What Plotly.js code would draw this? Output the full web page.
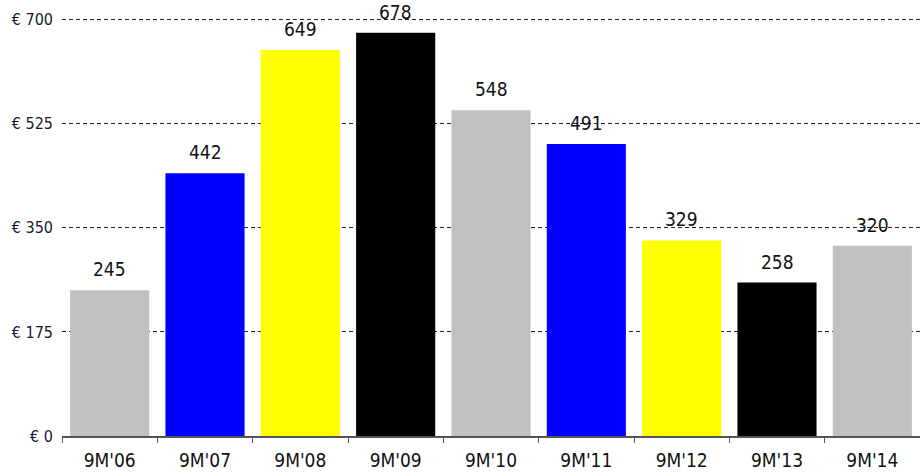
<!DOCTYPE html>
<html><head><meta charset="utf-8">
<script src="https://cdn.plot.ly/plotly-3.0.1.min.js"></script>
<style>html,body{margin:0;padding:0;background:#fff}#chart{width:920px;height:475px}</style>
</head><body><div id="chart"></div>
<script>
const categories = ["9M'06","9M'07","9M'08","9M'09","9M'10","9M'11","9M'12","9M'13","9M'14"];
const values = [245, 442, 649, 678, 548, 491, 329, 258, 320];
const barColors = ["#c0c0c0","#0000ff","#ffff00","#000000","#c0c0c0","#0000ff","#ffff00","#000000","#c0c0c0"];
const tickValues = [0, 175, 350, 525, 700];
const tickLabels = ["€ 0","€ 175","€ 350","€ 525","€ 700"];

const fontFam = "'Liberation Sans Narrow','DejaVu Sans Condensed','DejaVu Sans',sans-serif";

const trace = {
  type: 'bar', x: categories, y: values,
  marker: {color: barColors, line: {width: 0}},
  hoverinfo: 'none'
};
const annotations = categories.map((c, i) => ({
  x: c, y: values[i], text: String(values[i]), showarrow: false,
  yanchor: 'bottom', yshift: 8,
  font: {family: fontFam, size: 19, color: '#111'}
}));
const layout = {
  width: 920, height: 475,
  margin: {l: 62, r: 0, t: 18, b: 39},
  paper_bgcolor: '#fff', plot_bgcolor: '#fff',
  bargap: 0.17,
  showlegend: false,
  xaxis: {
    type: 'category', showgrid: false, zeroline: false,
    showline: true, linecolor: '#555', linewidth: 2,
    ticks: 'outside', tickson: 'boundaries', ticklen: 5, tickcolor: '#555',
    ticklabelstandoff: 6,
    tickfont: {family: fontFam, size: 19, color: '#111'},
    fixedrange: true
  },
  yaxis: {
    range: [0, 703], tickmode: 'array', tickvals: tickValues, ticktext: tickLabels,
    showgrid: true, gridcolor: '#222', griddash: '4px,3px', gridwidth: 1,
    zeroline: false, showline: false, ticks: '',
    ticklabelstandoff: 8,
    tickfont: {family: fontFam, size: 16, color: '#1a1a2e'},
    fixedrange: true
  },
  annotations: annotations
};
Plotly.newPlot('chart', [trace], layout, {displayModeBar: false, staticPlot: true});
</script></body></html>
